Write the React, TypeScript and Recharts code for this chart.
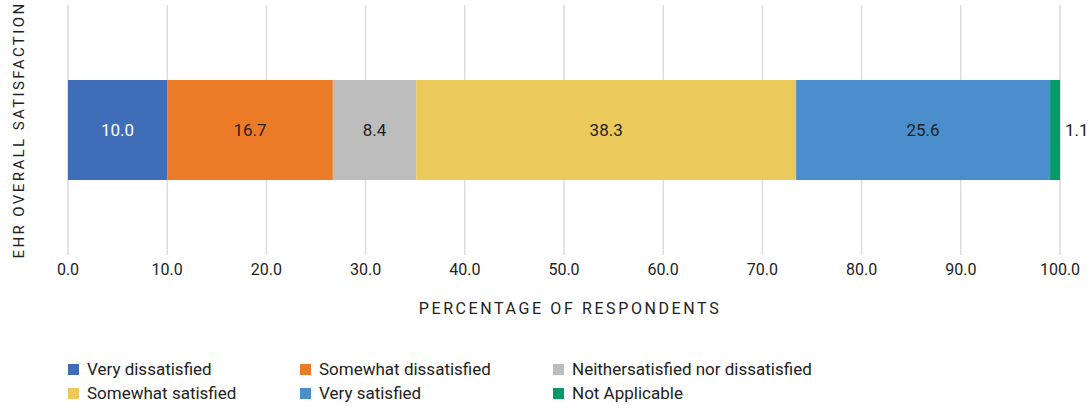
import React from "react";
import {
  BarChart,
  Bar,
  XAxis,
  YAxis,
  CartesianGrid,
  LabelList,
  Label,
  Legend,
} from "recharts";

const categories = ["EHR Overall Satisfaction"];
const seriesNames = [
  "Very dissatisfied",
  "Somewhat dissatisfied",
  "Neithersatisfied nor dissatisfied",
  "Somewhat satisfied",
  "Very satisfied",
  "Not Applicable",
];
const seriesValues = [10.0, 16.7, 8.4, 38.3, 25.6, 1.1];
const seriesColors = ["#3f6db8", "#ec7b27", "#bdbdbd", "#ecc95b", "#4a8ecb", "#049a69"];
const labelColors = ["#ffffff", "#222222", "#222222", "#222222", "#222222", "#222222"];
const xTicks = [0, 10, 20, 30, 40, 50, 60, 70, 80, 90, 100];

const keys = seriesNames.map((_, i) => `s${i}`);
const data = categories.map((c) => {
  const row: Record<string, string | number> = { name: c };
  keys.forEach((k, i) => (row[k] = seriesValues[i]));
  return row;
});

const FONT = "Roboto, 'DejaVu Sans', sans-serif";

function LegendGrid() {
  return (
    <div
      style={{
        display: "grid",
        gridTemplateColumns: "232px 253px 300px",
        rowGap: 6,
        fontFamily: FONT,
        fontSize: 17,
        color: "#222",
      }}
    >
      {seriesNames.map((n, i) => (
        <div key={n} style={{ display: "flex", alignItems: "center", height: 18 }}>
          <span
            style={{
              width: 11,
              height: 11,
              background: seriesColors[i],
              display: "inline-block",
              marginRight: 8,
            }}
          />
          <span>{n}</span>
        </div>
      ))}
    </div>
  );
}

export default function App() {
  return (
    <div style={{ position: "fixed", left: 0, top: 0, width: 1089, height: 408, background: "#fff" }}>
      <BarChart
        width={1089}
        height={408}
        data={data}
        layout="vertical"
        margin={{ top: 5, right: 29, left: 0, bottom: 0 }}
        style={{ fontFamily: FONT }}
      >
        <CartesianGrid horizontal={false} stroke="#dedede" strokeWidth={1.6} />
        <XAxis
          type="number"
          domain={[0, 100]}
          ticks={xTicks}
          allowDataOverflow
          tickFormatter={(v: number) => v.toFixed(1)}
          axisLine={false}
          tickLine={false}
          tickSize={0}
          tickMargin={9}
          height={111}
          tick={{ fill: "#222", fontSize: 16 }}
          interval={0}
        >
          <Label
            content={({ viewBox }: any) => (
              <text
                x={viewBox.x + viewBox.width / 2 + 6}
                y={314}
                textAnchor="middle"
                fill="#222"
                fontSize={16}
                letterSpacing={2.6}
              >
                PERCENTAGE OF RESPONDENTS
              </text>
            )}
          />
        </XAxis>
        <YAxis
          type="category"
          dataKey="name"
          width={68}
          tick={false}
          axisLine={false}
          tickLine={false}
        >
          <Label
            content={({ viewBox }: any) => (
              <text
                x={24}
                y={viewBox.y + viewBox.height / 2}
                textAnchor="middle"
                fill="#222"
                fontSize={15}
                letterSpacing={2.4}
                transform={`rotate(-90, 24, ${viewBox.y + viewBox.height / 2})`}
              >
                EHR OVERALL SATISFACTION
              </text>
            )}
          />
        </YAxis>
        {keys.map((k, i) => (
          <Bar
            key={k}
            dataKey={k}
            name={seriesNames[i]}
            stackId="a"
            fill={seriesColors[i]}
            barSize={100}
            isAnimationActive={false}
          >
            <LabelList
              dataKey={k}
              position={i === keys.length - 1 ? "right" : "center"}
              offset={5}
              formatter={(v: any) => Number(v).toFixed(1)}
              fill={labelColors[i]}
              fontSize={17}
            />
          </Bar>
        ))}
        <Legend
          layout="vertical"
          align="center"
          verticalAlign="bottom"
          content={() => <LegendGrid />}
          wrapperStyle={{ left: 68, top: 360, width: 900, bottom: "auto" }}
        />
      </BarChart>
    </div>
  );
}
